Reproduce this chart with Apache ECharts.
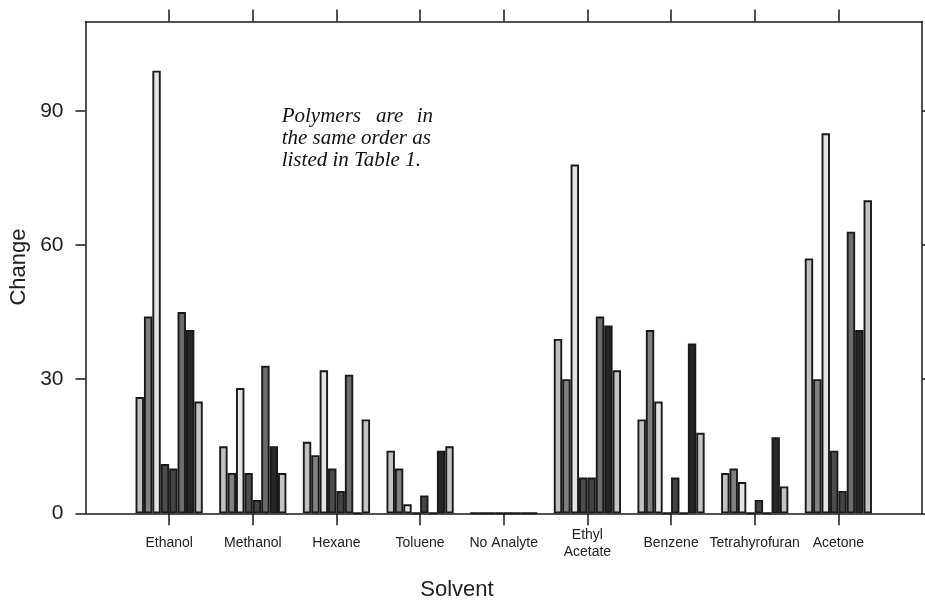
<!DOCTYPE html>
<html>
<head>
<meta charset="utf-8">
<script src="https://cdn.jsdelivr.net/npm/echarts@6/dist/echarts.min.js"></script>
<style>
 html, body { margin:0; padding:0; background:#fff; }
 #main { width:925px; height:601px; }
</style>
</head>
<body>
<div id="main"></div>
<script>
 // solvents, padded with an empty slot on both ends
 var solvents = ['', 'Ethanol', 'Methanol', 'Hexane', 'Toluene', 'No Analyte', 'Ethyl\nAcetate', 'Benzene', 'Tetrahyrofuran', 'Acetone', ''];

 // change per polymer (same order as Table 1), one value per solvent
 var polymer1 = [26, 15, 16, 14, 0, 39, 21, 9, 57];
 var polymer2 = [44, 9, 13, 10, 0, 30, 41, 10, 30];
 var polymer3 = [99, 28, 32, 2, 0, 78, 25, 7, 85];
 var polymer4 = [11, 9, 10, 0, 0, 8, 0, 0, 14];
 var polymer5 = [10, 3, 5, 4, 0, 8, 8, 3, 5];
 var polymer6 = [45, 33, 31, 0, 0, 44, 0, 0, 63];
 var polymer7 = [41, 15, 0, 14, 0, 42, 38, 17, 41];
 var polymer8 = [25, 9, 21, 15, 0, 32, 18, 6, 70];

 var yTicks = [0, 30, 60, 90];

 var polymers = [polymer1, polymer2, polymer3, polymer4, polymer5, polymer6, polymer7, polymer8];
 var fills = ['#c0c0c0', '#808080', '#e4e4e4', '#4c4c4c', '#444444', '#6c6c6c', '#262626', '#c4c4c4'];

 var myChart;

 function showEcharts(){
   myChart = echarts.init(document.getElementById('main'));

   var series = [];
   for (var i = 0; i < polymers.length; i++) {
     series.push({
       name: 'Polymer ' + (i + 1),
       type: 'bar',
       barWidth: 8.4,
       barGap: '0%',
       itemStyle: { color: fills[i], borderColor: '#1a1a1a', borderWidth: 1.9 },
       data: ['-'].concat(polymers[i]).concat(['-'])
     });
   }

   var lineStyle = { color: '#1a1a1a', width: 1.5 };
   var innerTicks = function(index){ return index > 0 && index < solvents.length - 1; };

   myChart.setOption({
     animation: false,
     grid: { left: 85.5, top: 21.5, right: 1.5, bottom: 87.7 },
     xAxis: [{
       type: 'category',
       data: solvents,
       boundaryGap: false,
       position: 'bottom',
       axisLine: { onZero: false, lineStyle: lineStyle },
       axisTick: { show: true, length: 12, interval: innerTicks, lineStyle: lineStyle },
       axisLabel: {
         interval: 0, margin: 30, verticalAlign: 'middle',
         fontFamily: 'Liberation Sans', fontSize: 14, lineHeight: 17, color: '#222'
       },
       splitLine: { show: false }
     }, {
       type: 'category',
       data: solvents,
       boundaryGap: false,
       position: 'top',
       axisLine: { onZero: false, lineStyle: lineStyle },
       axisTick: { show: true, length: 12, interval: innerTicks, lineStyle: lineStyle },
       axisLabel: { show: false },
       splitLine: { show: false }
     }],
     yAxis: [{
       type: 'value',
       min: 0, max: 110, interval: 30,
       position: 'left',
       axisLine: { show: true, onZero: false, lineStyle: lineStyle },
       axisTick: { show: true, length: 10, customValues: yTicks, lineStyle: lineStyle },
       axisLabel: {
         customValues: yTicks, margin: 22,
         fontFamily: 'Liberation Sans', fontSize: 21, color: '#222'
       },
       splitLine: { show: false }
     }, {
       type: 'value',
       min: 0, max: 110, interval: 30,
       position: 'right',
       axisLine: { show: true, onZero: false, lineStyle: lineStyle },
       axisTick: { show: true, length: 10, customValues: yTicks, lineStyle: lineStyle },
       axisLabel: { show: false },
       splitLine: { show: false }
     }],
     graphic: [
       { type: 'text', x: 457, y: 590, style: { text: 'Solvent', font: '22px "Liberation Sans"', fill: '#222', textAlign: 'center', textVerticalAlign: 'middle' } },
       { type: 'text', x: 19, y: 267, rotation: Math.PI / 2, style: { text: 'Change', font: '22px "Liberation Sans"', fill: '#222', textAlign: 'center', textVerticalAlign: 'middle' } },
       { type: 'text', x: 281.7, y: 116.3, style: { text: 'Polymers', font: 'italic 21px "Liberation Serif"', fill: '#111', textAlign: 'left', textVerticalAlign: 'middle' } },
       { type: 'text', x: 376, y: 116.3, style: { text: 'are', font: 'italic 21px "Liberation Serif"', fill: '#111', textAlign: 'left', textVerticalAlign: 'middle' } },
       { type: 'text', x: 433, y: 116.3, style: { text: 'in', font: 'italic 21px "Liberation Serif"', fill: '#111', textAlign: 'right', textVerticalAlign: 'middle' } },
       { type: 'text', x: 281.7, y: 138.4, style: { text: 'the same order as', font: 'italic 21px "Liberation Serif"', fill: '#111', textAlign: 'left', textVerticalAlign: 'middle' } },
       { type: 'text', x: 281.7, y: 160.6, style: { text: 'listed in Table 1.', font: 'italic 21px "Liberation Serif"', fill: '#111', textAlign: 'left', textVerticalAlign: 'middle' } }
     ],
     series: series
   });
 }

 showEcharts();
</script>
</body>
</html>
